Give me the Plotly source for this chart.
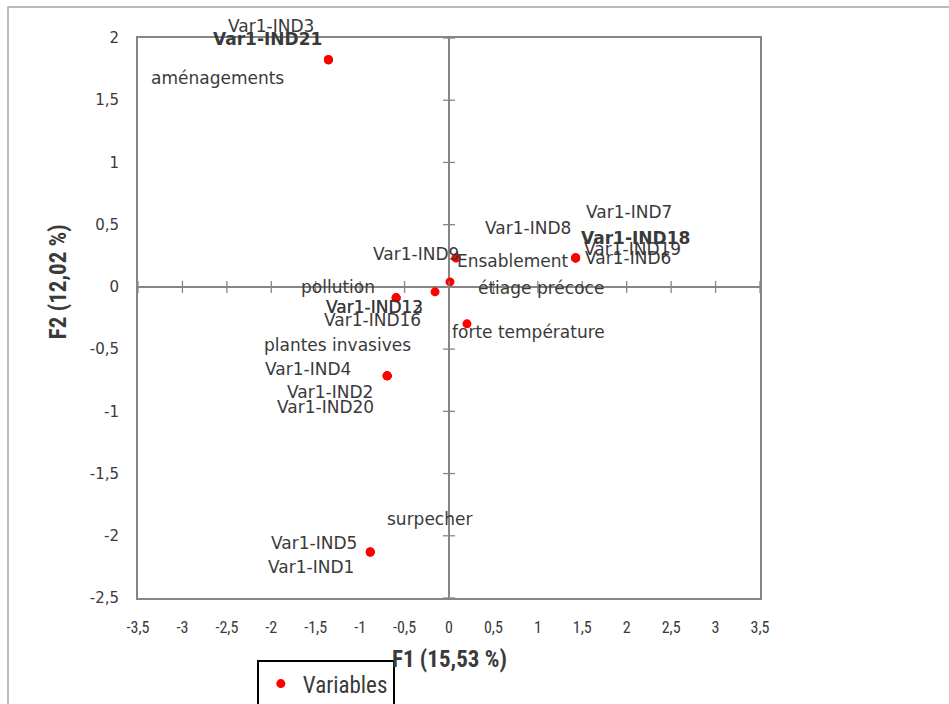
import plotly.graph_objects as go

# ---- data ----
variables = ["aménagements", "Var1-IND3", "Var1-IND21",
             "Var1-IND9", "Ensablement",
             "étiage précoce",
             "Var1-IND12",
             "pollution", "Var1-IND13", "Var1-IND16",
             "forte température",
             "Var1-IND7", "Var1-IND8", "Var1-IND18", "Var1-IND19", "Var1-IND6",
             "plantes invasives", "Var1-IND4", "Var1-IND2", "Var1-IND20",
             "surpecher", "Var1-IND5", "Var1-IND1"]
f1 = [-1.357, -1.357, -1.357,
      0.079, 0.079,
      0.011,
      -0.157,
      -0.595, -0.595, -0.595,
      0.202,
      1.425, 1.425, 1.425, 1.425, 1.425,
      -0.696, -0.696, -0.696, -0.696,
      -0.886, -0.886, -0.886]
f2 = [1.825, 1.825, 1.825,
      0.233, 0.233,
      0.040,
      -0.040,
      -0.088, -0.088, -0.088,
      -0.297,
      0.233, 0.233, 0.233, 0.233, 0.233,
      -0.715, -0.715, -0.715, -0.715,
      -2.130, -2.130, -2.130]

x_tickvals = [-3.5, -3, -2.5, -2, -1.5, -1, -0.5, 0, 0.5, 1, 1.5, 2, 2.5, 3, 3.5]
x_ticktext = ["-3,5", "-3", "-2,5", "-2", "-1,5", "-1", "-0,5", "0", "0,5", "1", "1,5", "2", "2,5", "3", "3,5"]
y_tickvals = [-2.5, -2, -1.5, -1, -0.5, 0, 0.5, 1, 1.5, 2]
y_ticktext = ["-2,5", "-2", "-1,5", "-1", "-0,5", "0", "0,5", "1", "1,5", "2"]

x_title = "F1 (15,53 %)"
y_title = "F2 (12,02 %)"
series_name = "Variables"

# ---- label placement (pixel offsets from the point: dx right, dy up) ----
label_offsets = {
    "aménagements": (-111, -18), "Var1-IND3": (-57, 34), "Var1-IND21": (-61, 21),
    "Var1-IND9": (-40, 4), "Ensablement": (57, -3),
    "étiage précoce": (91, -6),
    "Var1-IND12": (-61, -15),
    "pollution": (-58, 11), "Var1-IND13": (-22, -9), "Var1-IND16": (-24, -22),
    "forte température": (62, -8),
    "Var1-IND7": (53, 46), "Var1-IND8": (-48, 30), "Var1-IND18": (60, 20),
    "Var1-IND19": (57, 9), "Var1-IND6": (52, 0),
    "plantes invasives": (-50, 31), "Var1-IND4": (-79, 7), "Var1-IND2": (-57, -16),
    "Var1-IND20": (-62, -31),
    "surpecher": (59, 33), "Var1-IND5": (-56, 9), "Var1-IND1": (-59, -15),
}
bold_labels = {"Var1-IND21", "Var1-IND18"}

GRAY = "#868686"
TXT = "#3a3a3a"
LABEL_FONT = "DejaVu Sans, Verdana, sans-serif"
NARROW = "Liberation Sans Narrow, Arial Narrow, Roboto Condensed, sans-serif"

fig = go.Figure()
fig.add_trace(go.Scatter(
    x=f1, y=f2, mode="markers", name=series_name,
    marker=dict(color="#ff0000", size=9),
    text=variables, hoverinfo="text", cliponaxis=False,
))

annotations = []
for name, xv, yv in zip(variables, f1, f2):
    dx, dy = label_offsets[name]
    txt = f"<b>{name}</b>" if name in bold_labels else name
    annotations.append(dict(
        x=xv, y=yv, xref="x", yref="y", text=txt, showarrow=False,
        xshift=dx, yshift=dy, xanchor="center", yanchor="middle",
        font=dict(family=LABEL_FONT, size=17, color=TXT),
    ))

annotations.append(dict(
    x=0.5, y=-0.109, xref="paper", yref="paper", text=f"<b>{x_title}</b>",
    showarrow=False, xanchor="center", yanchor="middle",
    font=dict(family=NARROW, size=23, color=TXT),
))
annotations.append(dict(
    x=-0.1286, y=0.564, xref="paper", yref="paper", text=f"<b>{y_title}</b>",
    showarrow=False, xanchor="center", yanchor="middle", textangle=-90,
    font=dict(family=NARROW, size=23, color=TXT),
))

shapes = []
# crossing tick marks on the axes through the origin
for t in x_tickvals:
    shapes.append(dict(type="line", xref="x", yref="y", x0=t, x1=t,
                       ysizemode="pixel", yanchor=0, y0=-6, y1=6,
                       line=dict(color=GRAY, width=1.3)))
for t in y_tickvals:
    shapes.append(dict(type="line", xref="x", yref="y", y0=t, y1=t,
                       xsizemode="pixel", xanchor=0, x0=-6, x1=6,
                       line=dict(color=GRAY, width=1.3)))
# outer chart frame
shapes.append(dict(type="rect", xref="paper", yref="paper",
                   x0=-0.209, x1=1.6, y0=-0.6, y1=1.0554,
                   line=dict(color="#a6a6a6", width=1.5), layer="below"))

axis_common = dict(
    showgrid=False, zeroline=True, zerolinecolor=GRAY, zerolinewidth=1.5,
    showline=True, mirror=True, linecolor=GRAY, linewidth=2,
    ticks="outside", ticklen=14, tickcolor="rgba(0,0,0,0)",
    tickmode="array", automargin=False,
)

fig.update_layout(
    width=949, height=704, autosize=False,
    margin=dict(l=138, r=189, t=38, b=106, pad=0, autoexpand=False),
    paper_bgcolor="white", plot_bgcolor="white",
    xaxis=dict(range=[-3.5, 3.5], tickvals=x_tickvals, ticktext=x_ticktext,
               tickfont=dict(family=NARROW, size=16, color=TXT), **axis_common),
    yaxis=dict(range=[-2.5, 2], tickvals=y_tickvals, ticktext=y_ticktext,
               tickfont=dict(family=LABEL_FONT, size=15, color=TXT), **axis_common),
    showlegend=True,
    legend=dict(x=0.191, y=-0.111, xanchor="left", yanchor="top",
                bordercolor="#000000", borderwidth=2, bgcolor="white",
                itemwidth=34,
                font=dict(family=NARROW, size=23, color=TXT)),
    annotations=annotations,
    shapes=shapes,
    hovermode="closest",
)

fig.write_html("out.html")
